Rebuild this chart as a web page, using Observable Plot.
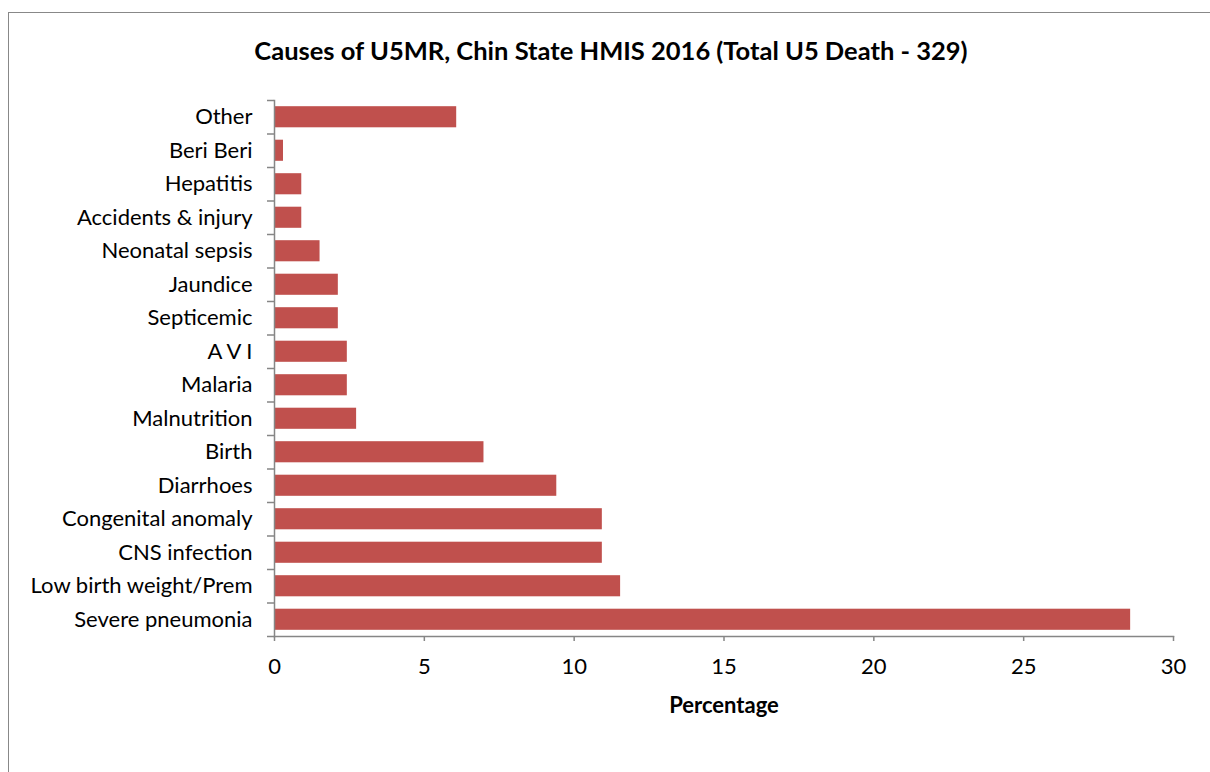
<!DOCTYPE html>
<html>
<head>
<meta charset="utf-8">
<script src="https://cdn.jsdelivr.net/npm/d3@7"></script>
<script src="https://cdn.jsdelivr.net/npm/@observablehq/plot@0.6"></script>
<style>
  html, body { margin: 0; padding: 0; background: #fff; }
  #wrap { position: relative; width: 1210px; height: 772px; overflow: hidden; font-family: Lato, "Open Sans", sans-serif; }
  #border { position: absolute; left: 8px; top: 12px; width: 1300px; height: 900px; border: 1.5px solid #888; box-sizing: border-box; }
  #title { position: absolute; left: 0; width: 1222px; top: 35px; line-height: 30px; text-align: center; font-weight: bold; font-size: 25.5px; color: #000; }
  #chart { position: absolute; left: 0; top: 0; }
</style>
</head>
<body>
<div id="wrap">
  <div id="border"></div>
  <div id="title">Causes of U5MR, Chin State HMIS 2016 (Total U5 Death - 329)</div>
  <div id="chart"></div>
</div>
<script>
const causes = ["Other", "Beri Beri", "Hepatitis", "Accidents & injury", "Neonatal sepsis", "Jaundice", "Septicemic", "A V I", "Malaria", "Malnutrition", "Birth", "Diarrhoes", "Congenital anomaly", "CNS infection", "Low birth weight/Prem", "Severe pneumonia"];
const percentages = [6.08, 0.30, 0.91, 0.91, 1.52, 2.13, 2.13, 2.43, 2.43, 2.74, 6.99, 9.42, 10.94, 10.94, 11.55, 28.57];
const xTicks = [0, 5, 10, 15, 20, 25, 30];
const xLabel = "Percentage";

const data = causes.map((c, i) => ({cause: c, value: percentages[i]}));

const W = 1210, H = 772, mT = 100, mB = 136, mL = 274, mR = 37;
const step = (H - mT - mB) / causes.length;
const axisColor = "#868686";

const plot = Plot.plot({
  width: W,
  height: H,
  marginTop: mT,
  marginBottom: mB,
  marginLeft: mL,
  marginRight: mR,
  style: {background: "transparent", fontFamily: "Lato, 'Open Sans', sans-serif", fontSize: "22px", color: "#000"},
  x: {domain: [0, 30], ticks: xTicks, round: false},
  y: {domain: causes, paddingInner: 0.37, paddingOuter: 0.185, align: 0.5, round: false},
  marks: [
    Plot.barX(data, {x: "value", y: "cause", fill: "#C0504D"}),
    Plot.frame({anchor: "bottom", stroke: axisColor, strokeWidth: 1.5}),
    Plot.frame({anchor: "left", stroke: axisColor, strokeWidth: 1.5}),
    Plot.axisX({ticks: xTicks, tickSize: 5, tickPadding: 17, stroke: axisColor, strokeWidth: 1.5, fill: "#000", label: null, fontSize: 22}),
    Plot.text([xLabel], {frameAnchor: "bottom", dy: 76, fontWeight: "bold", fontSize: 22, fill: "#000"}),
    Plot.axisY({tickSize: 0, tickPadding: 22, fill: "#000", label: null, fontSize: 22}),
    Plot.axisY({tickSize: 7, tickFormat: null, stroke: axisColor, strokeWidth: 1.5, dy: -step / 2, label: null}),
    Plot.axisY({ticks: [causes[causes.length - 1]], tickSize: 7, tickFormat: null, stroke: axisColor, strokeWidth: 1.5, dy: step / 2, label: null})
  ]
});
document.getElementById("chart").appendChild(plot);
</script>
</body>
</html>
